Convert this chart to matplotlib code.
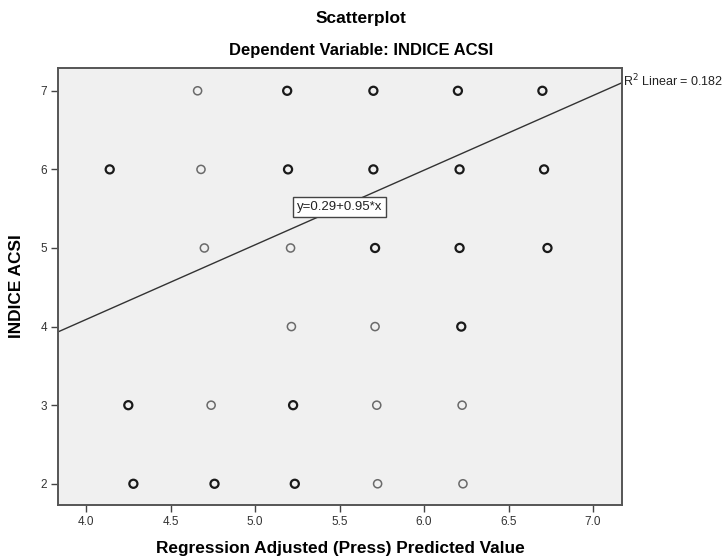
import matplotlib
matplotlib.use('Agg')
import matplotlib.pyplot as plt
import numpy as np

plt.rcParams['font.family'] = ['Liberation Sans', 'DejaVu Sans']

# cases that fall on the same spot several times (drawn heavier)
multi_x = [5.19, 5.70, 6.20, 6.70,
           4.14, 5.195, 5.70, 6.21, 6.71,
           5.71, 6.21, 6.73,
           6.22,
           4.25, 5.225,
           4.28, 4.76, 5.235]
multi_y = [7, 7, 7, 7,
           6, 6, 6, 6, 6,
           5, 5, 5,
           4,
           3, 3,
           2, 2, 2]

# single cases
single_x = [4.66, 4.68, 4.70, 5.21, 5.215, 5.71, 4.74, 5.72, 6.225, 5.725, 6.23]
single_y = [7, 6, 5, 5, 4, 4, 3, 3, 3, 2, 2]

intercept = 0.29
slope = 0.95
r_squared = 0.182

x_ticks = [4.0, 4.5, 5.0, 5.5, 6.0, 6.5, 7.0]
y_ticks = [2, 3, 4, 5, 6, 7]

fig = plt.figure(figsize=(7.23, 5.58), dpi=100)
ax = fig.add_axes([58 / 723, 53 / 558, 564 / 723, 437 / 558])
ax.set_facecolor('#f0f0f0')

xlim = (3.834, 7.171)
ylim = (1.73, 7.29)
ax.set_xlim(*xlim)
ax.set_ylim(*ylim)

# fit line across the full x range
lx = np.array(xlim)
ax.plot(lx, intercept + slope * lx, color='#333333', linewidth=1.0, zorder=2)

ax.scatter(single_x, single_y, s=34, facecolors='none', edgecolors='#6a6a6a',
           linewidths=1.1, zorder=3)
ax.scatter(multi_x, multi_y, s=34, facecolors='none', edgecolors='#1a1a1a',
           linewidths=1.6, zorder=3)

ax.text(5.5, 5.52, f'y={intercept:.2f}+{slope:.2f}*x', fontsize=9.5,
        ha='center', va='center', color='#222222', zorder=4,
        bbox=dict(boxstyle='square,pad=0.3', facecolor='white',
                  edgecolor='#444444', linewidth=1.0))

ax.text(1.002, 0.971, f'R$^2$ Linear = {r_squared:.3f}', transform=ax.transAxes,
        fontsize=9, ha='left', va='center', color='#222222')

ax.set_xticks(x_ticks)
ax.set_xticklabels([f'{t:.1f}' for t in x_ticks])
ax.set_yticks(y_ticks)
ax.tick_params(direction='out', length=5, width=1.0, color='#444444',
               labelsize=8.5, labelcolor='#333333', pad=3)

for side in ax.spines.values():
    side.set_color('#555555')
    side.set_linewidth(1.4)

ax.set_xlabel('Regression Adjusted (Press) Predicted Value', fontsize=12.4,
              fontweight='bold')
ax.xaxis.set_label_coords(0.5, -36 / 437)
ax.set_ylabel('INDICE ACSI', fontsize=12.4, fontweight='bold')
ax.yaxis.set_label_coords(-34 / 564, 0.5)

fig.text(0.5, 1 - 18 / 558, 'Scatterplot', fontsize=12.5, fontweight='bold',
         ha='center', va='center')
fig.text(0.5, 1 - 51 / 558, 'Dependent Variable: INDICE ACSI', fontsize=12,
         fontweight='bold', ha='center', va='center')

fig.savefig('out.png', dpi=100)
